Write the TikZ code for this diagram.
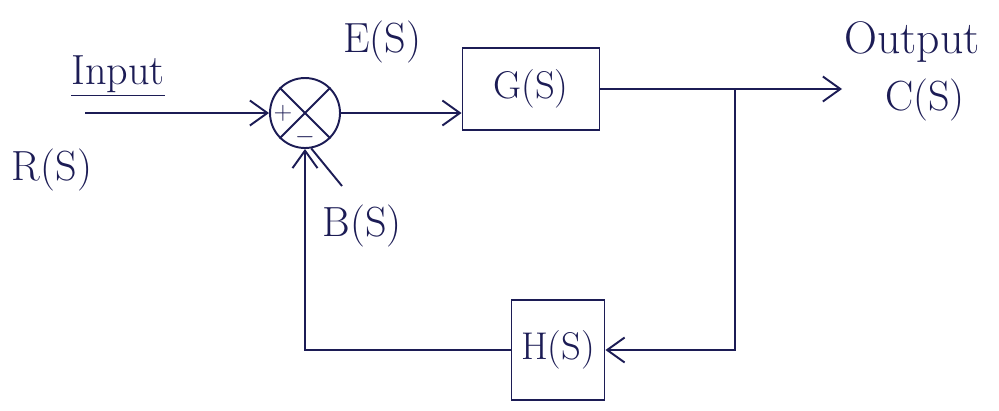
\documentclass[tikz,border=0pt]{standalone}
\usetikzlibrary{arrows.meta}
\definecolor{ink}{RGB}{28,28,85}
\begin{document}
\begin{tikzpicture}[x=0.02cm,y=-0.02cm,
  color=ink, line width=1.1pt,
  lbl/.style={text=ink,font=\fontsize{24}{28}\selectfont,inner sep=1pt},
  big/.style={text=ink,font=\fontsize{26}{30}\selectfont,inner sep=1pt},
  sgn/.style={text=ink,font=\fontsize{14}{16}\selectfont,inner sep=0pt},
  blk/.style={draw=ink,line width=1.1pt,text=ink,font=\fontsize{22}{26}\selectfont},
  sumc/.style={circle,draw=ink,line width=1.1pt,minimum size=1.4cm,inner sep=0pt},
  arr/.style={-{Straight Barb[length=3.5mm,width=5mm]}}]
\useasboundingbox (0,0) rectangle (999,410);
% summing junction
\node[sumc] (sum) at (305,113) {};
\draw (sum.north west) -- (sum.south east);
\draw (sum.north east) -- (sum.south west);
\node[sgn] (plus) at (283,113) {+};
\node[sgn] (minus) at (305,137) {$-$};
% blocks
\node[blk,minimum width=2.74cm,minimum height=1.64cm] (G) at (531,89) {G(S)};
\node[blk,minimum width=1.86cm,minimum height=2.0cm] (H) at (558,350) {H(S)};
% coordinates
\coordinate (in) at (85,113);
\coordinate (br) at (735,89);
\coordinate (out) at (842,89);
% connectors
\draw[arr] (in) -- (sum.west);
\draw[arr] (sum.east) -- (G.west |- sum.east);
\draw (G.east |- br) -- (br);
\draw[arr] (br) -- (out);
\draw[arr] (br) |- (H.east);
\draw[arr] (H.west) -| (sum.south);
% labels
\node[lbl] (input) at (118,76) {\underline{Input}};
\node[lbl] (R) at (52,170) {R(S)};
\node[lbl] (E) at (382,42) {E(S)};
\node[lbl] (B) at (362,226) {B(S)};
\coordinate (bl) at (342,186);
\draw (bl) -- (sum.-80);
\node[big] (outp) at (912,42) {Output};
\node[lbl] (C) at (925,100) {C(S)};
\end{tikzpicture}
\end{document}
